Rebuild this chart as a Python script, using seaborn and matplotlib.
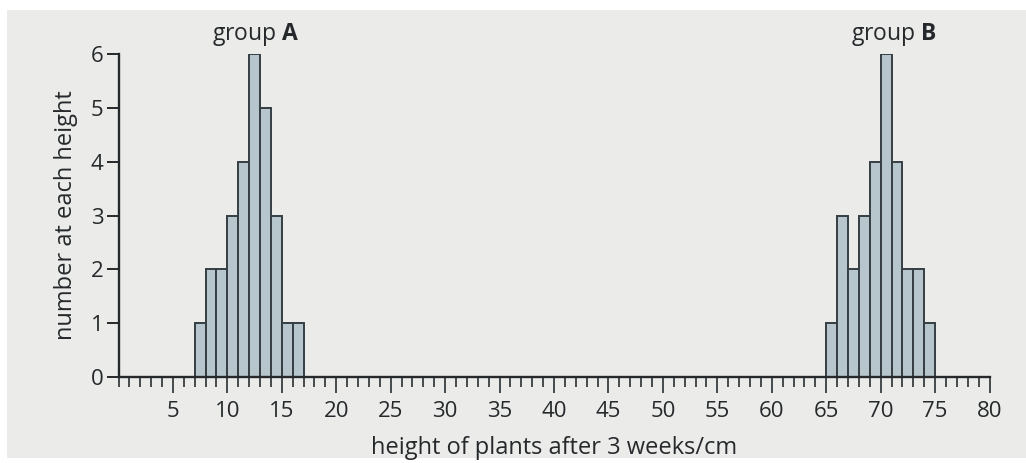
import numpy as np
import pandas as pd
import matplotlib
matplotlib.use("Agg")
import matplotlib.pyplot as plt
from matplotlib.patches import Rectangle
from matplotlib.ticker import MultipleLocator
import seaborn as sns

# Plant heights (lower edge of each 1 cm class) and number of plants in each class
heights_a = [7, 8, 9, 10, 11, 12, 13, 14, 15, 16]
counts_a = [1, 2, 2, 3, 4, 6, 5, 3, 1, 1]
heights_b = [65, 66, 67, 68, 69, 70, 71, 72, 73, 74]
counts_b = [1, 3, 2, 3, 4, 6, 4, 2, 2, 1]
x_ticks = [5, 10, 15, 20, 25, 30, 35, 40, 45, 50, 55, 60, 65, 70, 75, 80]
y_ticks = [0, 1, 2, 3, 4, 5, 6]

df = pd.DataFrame({
    "height": [h + 0.5 for h in heights_a + heights_b],
    "count": counts_a + counts_b,
})

sns.set_theme(style="ticks")
plt.rcParams["font.family"] = ["Open Sans", "DejaVu Sans"]
plt.rcParams["mathtext.fontset"] = "custom"
plt.rcParams["mathtext.rm"] = "Open Sans"
plt.rcParams["mathtext.bf"] = "Open Sans:bold"

ink = "#26292b"
paper = "#ebebea"

fig = plt.figure(figsize=(10.26, 4.63), dpi=100, facecolor="white")
# scanned page area
fig.patches.append(Rectangle((7 / 1026, 5 / 463), 1 - 7 / 1026, 448 / 463,
                             transform=fig.transFigure, facecolor=paper,
                             edgecolor="none", zorder=-10))
ax = fig.add_axes([0.1155, 0.1857, 0.849, 0.6976])
ax.set_facecolor("none")

sns.histplot(data=df, x="height", weights="count", binwidth=1, binrange=(0, 80),
             color="#b7c6cd", alpha=1.0, edgecolor="#353e42", linewidth=1.4,
             ax=ax)

ax.set_xlim(0, 80)
ax.set_ylim(0, 6)
ax.set_xticks(x_ticks)
ax.xaxis.set_minor_locator(MultipleLocator(1))
ax.set_yticks(y_ticks)

for side in ("top", "right"):
    ax.spines[side].set_visible(False)
for side in ("left", "bottom"):
    ax.spines[side].set_color(ink)
    ax.spines[side].set_linewidth(1.7)

ax.tick_params(axis="x", which="major", direction="out", length=11.5, width=1.4,
               color="#454a4d", labelsize=16, labelcolor=ink, pad=6)
ax.tick_params(axis="x", which="minor", direction="out", length=7.5, width=1.4,
               color="#454a4d")
ax.tick_params(axis="y", which="major", direction="out", length=9, width=1.4,
               color=ink, labelsize=16, labelcolor=ink, pad=2)

ax.set_xlabel("height of plants after 3 weeks/cm", fontsize=17, color=ink,
              labelpad=10)
ax.set_ylabel("number at each height", fontsize=17, color=ink, labelpad=9)

# group labels above each cluster
ax.text(12.6, 6.37, r"group $\mathbf{A}$", ha="center", va="center",
        fontsize=16.5, color=ink, clip_on=False)
ax.text(71.2, 6.37, r"group $\mathbf{B}$", ha="center", va="center",
        fontsize=16.5, color=ink, clip_on=False)

fig.savefig("out.png", dpi=100, facecolor=fig.get_facecolor())
